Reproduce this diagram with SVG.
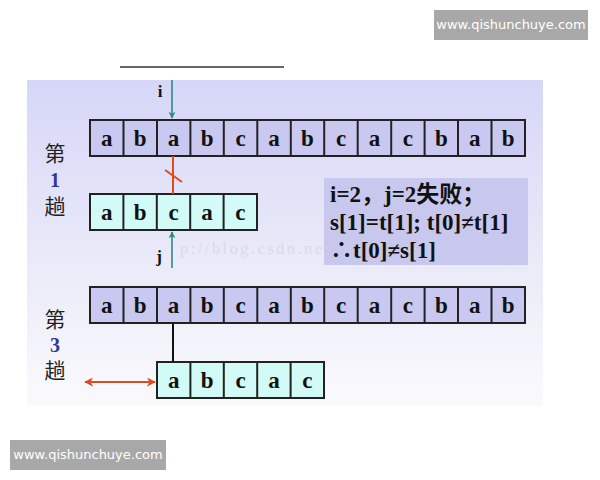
<svg xmlns="http://www.w3.org/2000/svg" width="600" height="480" viewBox="0 0 600 480">
<defs>
<linearGradient id="bg" x1="0" y1="0" x2="0" y2="1">
<stop offset="0" stop-color="#d6d6f8"/>
<stop offset="0.5" stop-color="#e8e8f8"/>
<stop offset="1" stop-color="#fafafd"/>
</linearGradient>
<marker id="ah" viewBox="0 0 10 10" refX="9" refY="5" markerWidth="7" markerHeight="7" orient="auto-start-reverse" markerUnits="userSpaceOnUse">
<path d="M0,0 L10,5 L0,10 L3,5 z" fill="#2a8a8a"/>
</marker>
<marker id="ahr" viewBox="0 0 10 10" refX="9" refY="5" markerWidth="9" markerHeight="9" orient="auto-start-reverse" markerUnits="userSpaceOnUse">
<path d="M0,0 L10,5 L0,10 L3,5 z" fill="#e04a20"/>
</marker>
</defs>
<style>
.s{fill:#c8c8f0;stroke:#222;stroke-width:2}
.p{fill:#d2faf6;stroke:#222;stroke-width:2}
.c{font-family:"Liberation Serif",serif;font-weight:bold;font-size:23px;fill:#111;text-anchor:middle}
.z{font-family:"Noto Sans CJK SC",sans-serif;font-size:21px;fill:#222;text-anchor:middle}
.n{font-family:"Liberation Serif",serif;font-weight:bold;font-size:20px;fill:#333399;text-anchor:middle}
.t{font-family:"Liberation Serif","Noto Sans CJK SC",serif;font-weight:bold;font-size:23px;fill:#111}
.w{font-family:"DejaVu Sans",sans-serif;font-size:13px;fill:#fff;text-anchor:middle}
</style>
<rect width="600" height="480" fill="#fff"/>
<g id="watermark-top"><rect x="434" y="10" width="154" height="30" fill="#a8a8a8"/><text class="w" x="511" y="29">www.qishunchuye.com</text></g>
<line x1="120" y1="67" x2="284" y2="67" stroke="#333" stroke-width="1.5"/>
<rect x="27" y="80" width="516" height="326" fill="url(#bg)"/>
<text x="180" y="254" font-family="Liberation Serif,serif" font-size="16" fill="#dadae2" textLength="142">p://blog.csdn.ne</text>

<g id="pass1-label"><text class="z" x="55" y="161">第</text><text class="n" x="55" y="187">1</text><text class="z" x="55" y="214">趟</text></g>
<g id="pass3-label"><text class="z" x="55" y="327">第</text><text class="n" x="55" y="352">3</text><text class="z" x="55" y="378">趟</text></g>

<g id="s1">
<rect class="s" x="90" y="120" width="435" height="36"/>
<g stroke="#222" stroke-width="2"><line x1="123.5" y1="120" x2="123.5" y2="156"/><line x1="157" y1="120" x2="157" y2="156"/><line x1="190.4" y1="120" x2="190.4" y2="156"/><line x1="223.8" y1="120" x2="223.8" y2="156"/><line x1="257.3" y1="120" x2="257.3" y2="156"/><line x1="290.8" y1="120" x2="290.8" y2="156"/><line x1="324.2" y1="120" x2="324.2" y2="156"/><line x1="357.7" y1="120" x2="357.7" y2="156"/><line x1="391.2" y1="120" x2="391.2" y2="156"/><line x1="424.6" y1="120" x2="424.6" y2="156"/><line x1="458" y1="120" x2="458" y2="156"/><line x1="491.5" y1="120" x2="491.5" y2="156"/></g>
<text class="c" y="146"><tspan x="106.7">a</tspan><tspan x="140.2">b</tspan><tspan x="173.6">a</tspan><tspan x="207.1">b</tspan><tspan x="240.5">c</tspan><tspan x="274">a</tspan><tspan x="307.5">b</tspan><tspan x="341">c</tspan><tspan x="374.4">a</tspan><tspan x="407.9">c</tspan><tspan x="441.3">b</tspan><tspan x="474.8">a</tspan><tspan x="508.2">b</tspan></text>
</g>

<g id="t1">
<rect class="p" x="90" y="194" width="167" height="36"/>
<g stroke="#222" stroke-width="2"><line x1="123.4" y1="194" x2="123.4" y2="230"/><line x1="156.8" y1="194" x2="156.8" y2="230"/><line x1="190.2" y1="194" x2="190.2" y2="230"/><line x1="223.6" y1="194" x2="223.6" y2="230"/></g>
<text class="c" y="220"><tspan x="106.7">a</tspan><tspan x="140.1">b</tspan><tspan x="173.5">c</tspan><tspan x="206.9">a</tspan><tspan x="240.3">c</tspan></text>
</g>

<g id="s3">
<rect class="s" x="90" y="287" width="435" height="36"/>
<g stroke="#222" stroke-width="2"><line x1="123.5" y1="287" x2="123.5" y2="323"/><line x1="157" y1="287" x2="157" y2="323"/><line x1="190.4" y1="287" x2="190.4" y2="323"/><line x1="223.8" y1="287" x2="223.8" y2="323"/><line x1="257.3" y1="287" x2="257.3" y2="323"/><line x1="290.8" y1="287" x2="290.8" y2="323"/><line x1="324.2" y1="287" x2="324.2" y2="323"/><line x1="357.7" y1="287" x2="357.7" y2="323"/><line x1="391.2" y1="287" x2="391.2" y2="323"/><line x1="424.6" y1="287" x2="424.6" y2="323"/><line x1="458" y1="287" x2="458" y2="323"/><line x1="491.5" y1="287" x2="491.5" y2="323"/></g>
<text class="c" y="313"><tspan x="106.7">a</tspan><tspan x="140.2">b</tspan><tspan x="173.6">a</tspan><tspan x="207.1">b</tspan><tspan x="240.5">c</tspan><tspan x="274">a</tspan><tspan x="307.5">b</tspan><tspan x="341">c</tspan><tspan x="374.4">a</tspan><tspan x="407.9">c</tspan><tspan x="441.3">b</tspan><tspan x="474.8">a</tspan><tspan x="508.2">b</tspan></text>
</g>

<g id="t3">
<rect class="p" x="157" y="362" width="167" height="36"/>
<g stroke="#222" stroke-width="2"><line x1="190.4" y1="362" x2="190.4" y2="398"/><line x1="223.8" y1="362" x2="223.8" y2="398"/><line x1="257.2" y1="362" x2="257.2" y2="398"/><line x1="290.6" y1="362" x2="290.6" y2="398"/></g>
<text class="c" y="388"><tspan x="173.7">a</tspan><tspan x="207.1">b</tspan><tspan x="240.5">c</tspan><tspan x="273.9">a</tspan><tspan x="307.3">c</tspan></text>
</g>

<g id="note">
<rect x="324" y="178" width="204" height="87" fill="#c8c8ee"/>
<text class="t" x="330" y="202">i=2，j=2失败；</text>
<text class="t" x="330" y="230">s[1]=t[1]; t[0]≠t[1]</text>
<text class="t" x="330" y="258">∴t[0]≠s[1]</text>
</g>

<g id="connectors">
<text x="160" y="97" font-family="Liberation Serif,serif" font-weight="bold" font-size="17" fill="#111" text-anchor="middle">i</text>
<line x1="172" y1="80" x2="172" y2="118" stroke="#2a8a8a" stroke-width="1.6" marker-end="url(#ah)"/>
<line x1="173" y1="156" x2="173" y2="194" stroke="#e04a20" stroke-width="2"/>
<line x1="165" y1="170" x2="182" y2="182" stroke="#e04a20" stroke-width="2"/>
<line x1="172" y1="268" x2="172" y2="232" stroke="#2a8a8a" stroke-width="1.6" marker-end="url(#ah)"/>
<text x="159" y="262" font-family="Liberation Serif,serif" font-weight="bold" font-size="17" fill="#111" text-anchor="middle">j</text>
<line x1="173" y1="323" x2="173" y2="362" stroke="#111" stroke-width="2"/>
<line x1="85" y1="382" x2="155" y2="382" stroke="#e04a20" stroke-width="2" marker-start="url(#ahr)" marker-end="url(#ahr)"/>
</g>

<g id="watermark-bottom"><rect x="10" y="440" width="156" height="30" fill="#a8a8a8"/><text class="w" x="88" y="459">www.qishunchuye.com</text></g>
</svg>
